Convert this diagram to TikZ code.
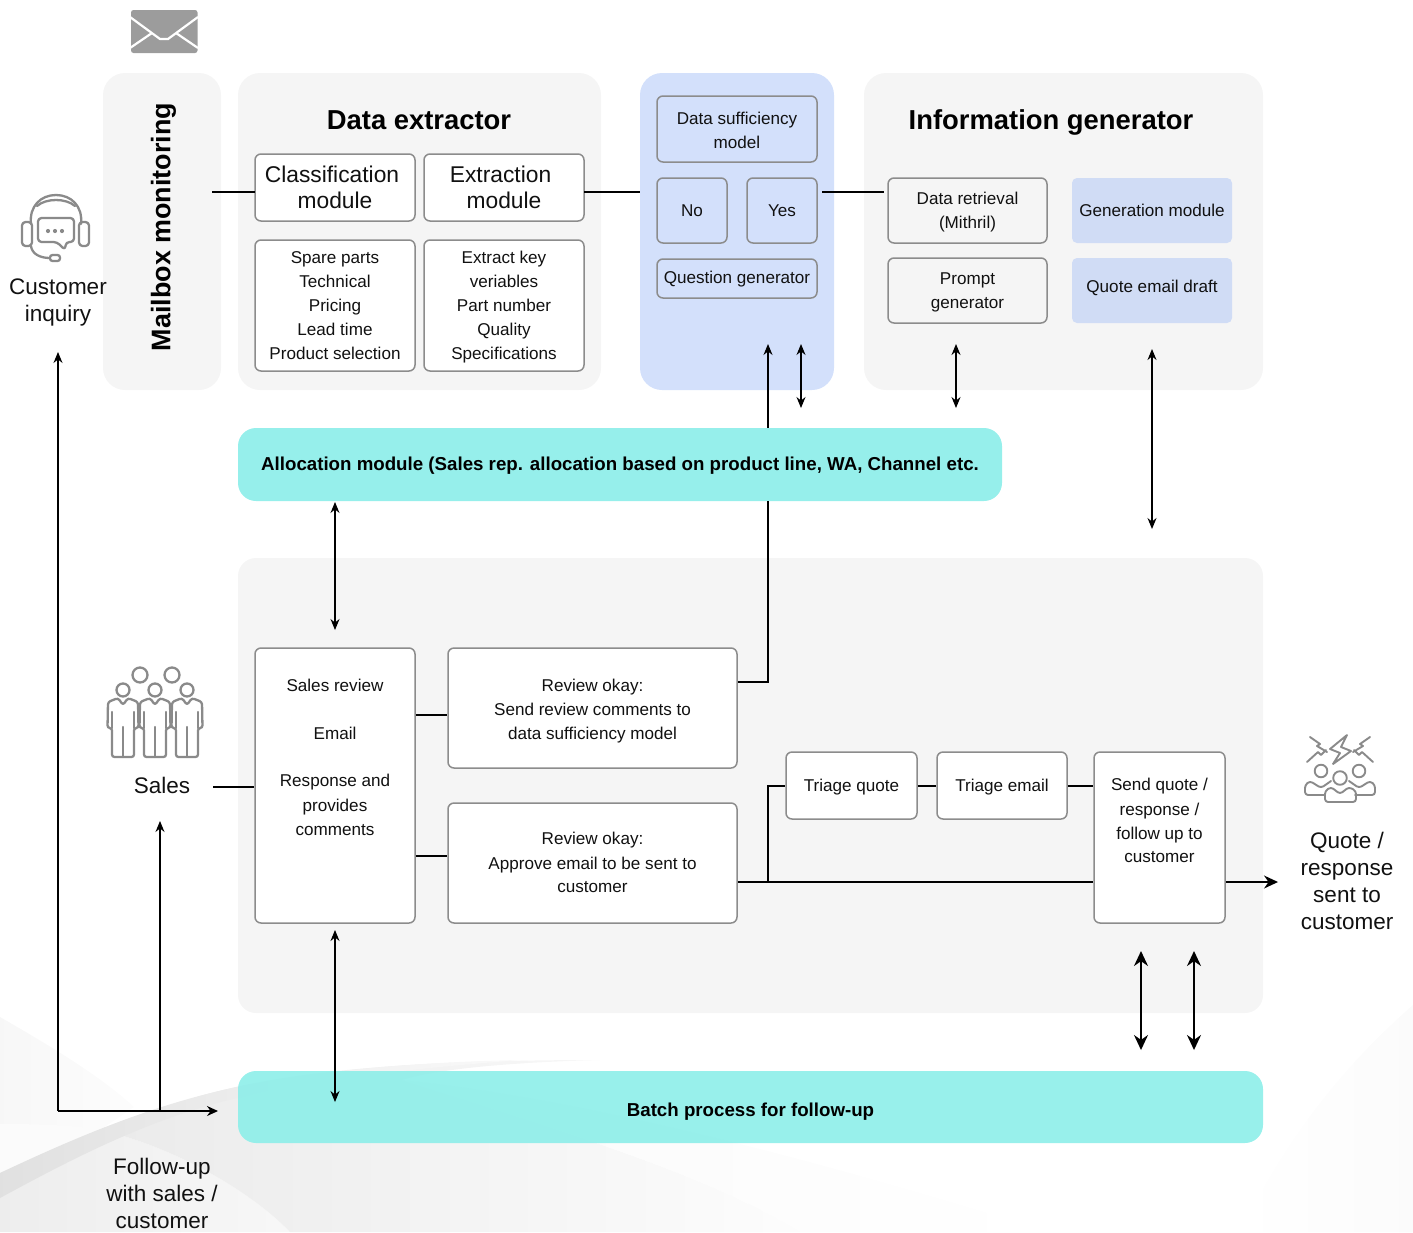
\documentclass[tikz,border=0pt]{standalone}
\usepackage{fontspec}
\setmainfont{Liberation Sans}
\usetikzlibrary{arrows.meta}
\definecolor{panelgrey}{HTML}{F5F5F5}
\definecolor{panelblue}{HTML}{D3E0FB}
\definecolor{genblue}{HTML}{D0DCF5}
\definecolor{teal}{HTML}{96EFEB}
\definecolor{tealb}{HTML}{8DEEE9}
\definecolor{edgegrey}{HTML}{8C8C8C}
\definecolor{icongrey}{HTML}{8A8A8A}
\definecolor{inkblack}{HTML}{111111}
\newcommand{\firststrut}{\rule{0pt}{.94em}}
\newcommand{\laststrut}{\rule[-.24em]{0pt}{.24em}}
\tikzset{
  panel/.style={rounded corners=22pt,draw=none,inner sep=0pt},
  cbox/.style={rounded corners=6pt,draw=edgegrey,line width=1.5pt,align=center,inner sep=0pt,text=inkblack,font=\fontsize{17.1}{24}\selectfont},
  bigbox/.style={cbox,font=\fontsize{22.8}{26}\selectfont},
  flat/.style={cbox,draw=none},
  outside/.style={align=center,text=inkblack,inner sep=0pt,font=\fontsize{22.5}{27}\selectfont},
  title/.style={align=center,inner sep=0pt,text=black,font=\fontsize{27.4}{32}\selectfont\bfseries},
  band/.style={rounded corners=18pt,inner sep=0pt,align=center,text=black,font=\fontsize{18.7}{22}\selectfont\bfseries},
  conn/.style={line width=1.4pt,draw=black},
  thin arrow/.style={conn,line width=1.1pt,-{Stealth[length=11pt,width=9pt]}},
  twoway/.style={conn,line width=1.1pt,{Stealth[length=11pt,width=9pt]}-{Stealth[length=11pt,width=9pt]}},
  twowayb/.style={conn,line width=1.8pt,{Stealth[length=15pt,width=14pt]}-{Stealth[length=15pt,width=14pt]}},
  icon/.style={draw=icongrey,line width=2.3pt,line join=round,line cap=round,fill=none},
}
% name, x1, y1, x2, y2, style, text
\newcommand{\boxat}[7]{%
  \pgfmathsetmacro{\bxc}{(#2+#4)/2}\pgfmathsetmacro{\byc}{(#3+#5)/2}%
  \pgfmathsetmacro{\bxw}{#4-#2}\pgfmathsetmacro{\byh}{#5-#3}%
  \node[#6,minimum width=\bxw pt,minimum height=\byh pt] (#1) at (\bxc,\byc) {\firststrut #7\laststrut};}
\newcommand{\manbody}[1]{%
  \draw[icon,rounded corners=2.5pt] (#1-5,698) -- (#1,705) -- (#1+5,698) -- (#1+15,702) -- (#1+15.5,728) -- (#1+11,728) -- (#1+11,757) -- (#1-11,757) -- (#1-11,728) -- (#1-15.5,728) -- (#1-15,702) -- cycle;
  \draw[icon] (#1,727) -- (#1,757) (#1-11,712) -- (#1-11,728) (#1+11,712) -- (#1+11,728);}
\begin{document}
\begin{tikzpicture}[x=1pt,y=-1pt]
\useasboundingbox (0,0) rectangle (1413,1232);
% background swooshes
\shade[left color=black!3,right color=black!1] (0,1017) .. controls (40,1040) and (100,1075) .. (134,1107) -- (100,1130) -- (0,1124) -- cycle;
\fill[black!1.5] (0,1124) .. controls (40,1124) and (75,1125) .. (100,1130) -- (0,1173) -- cycle;
\shade[left color=black!7,right color=black!3] (0,1232) -- (0,1173) -- (100,1130) .. controls (170,1145) and (250,1190) .. (290,1232) -- cycle;
\shade[left color=black!8,right color=black!1] (100,1130) -- (178,1103) .. controls (260,1075) and (380,1060) .. (600,1060) .. controls (520,1062) and (440,1068) .. (402,1080) .. controls (540,1125) and (700,1170) .. (800,1232) -- (290,1232) .. controls (250,1190) and (170,1145) .. (100,1130) -- cycle;
\shade[left color=black!12,right color=black!2] (0,1173) .. controls (70,1140) and (150,1105) .. (237,1087) .. controls (320,1070) and (420,1062) .. (520,1060) .. controls (420,1068) and (320,1078) .. (237,1098) .. controls (150,1118) and (70,1160) .. (0,1198) -- cycle;
\shade[left color=black!2,right color=white] (402,1080) .. controls (540,1125) and (700,1170) .. (800,1232) -- (1050,1232) .. controls (850,1170) and (600,1100) .. (402,1080) -- cycle;
\shade[left color=white,right color=black!1.5] (1240,1232) .. controls (1290,1130) and (1350,1060) .. (1413,1005) -- (1413,1232) -- cycle;
% panels
\boxat{pMail}{103}{73}{221}{390}{panel,fill=panelgrey}{}
\boxat{pExtract}{238}{73}{601}{390}{panel,fill=panelgrey}{}
\boxat{pSuff}{640}{73}{834}{390}{panel,fill=panelblue}{}
\boxat{pInfo}{864}{73}{1263}{390}{panel,fill=panelgrey}{}
\boxat{pLower}{238}{558}{1263}{1013}{panel,rounded corners=18pt,fill=panelgrey}{}
\boxat{alloc}{238}{428}{1002}{501}{band,fill=teal}{\raisebox{1pt}{Allocation module (Sales rep. allocation based on product line, WA, Channel etc.}}
\boxat{batch}{238}{1071}{1263}{1143}{band,fill=tealb,fill opacity=.9,text opacity=1}{\raisebox{-5pt}{Batch process for follow-up}}
% titles
\node[title,font=\fontsize{26.9}{30}\selectfont\bfseries,rotate=90] (mailT) at (161,227) {\firststrut Mailbox monitoring\laststrut};
\node[title] (extT) at (419,120) {\firststrut Data extractor\laststrut};
\node[title] (infoT) at (1051,120) {\firststrut Information generator\laststrut};
% connector free ends
\coordinate (mailOut) at (212,192);
\coordinate (classIn) at (255,192);
\coordinate (extOut) at (584,192);
\coordinate (suffIn) at (640,192);
\coordinate (suffOut) at (822,192);
\coordinate (retrIn) at (884,192);
\coordinate (a1) at (768,344);
\coordinate (a2t) at (801,344);
\coordinate (a2b) at (801,408);
\coordinate (a3t) at (956,344);
\coordinate (a3b) at (956,408);
\coordinate (a4t) at (1152,349);
\coordinate (a4b) at (1152,529);
\coordinate (a5t) at (335,502);
\coordinate (a5b) at (335,630);
\coordinate (a6t) at (335,930);
\coordinate (a6b) at (335,1102);
\coordinate (a7t) at (1141,951);
\coordinate (a7b) at (1141,1050);
\coordinate (a8t) at (1194,951);
\coordinate (a8b) at (1194,1050);
\coordinate (custIn) at (58,352);
\coordinate (salesIn) at (160,821);
\coordinate (fStart) at (58,1111);
\coordinate (fMid) at (160,1111);
\coordinate (fEnd) at (218,1111);
\coordinate (salesOut) at (213,787);
\coordinate (finalOut) at (1278,882);
% boxes
\boxat{cls}{255}{154}{415}{221}{bigbox,fill=white}{Classification\hspace{6pt}\mbox{}\\module}
\boxat{ext}{424}{154}{584}{221}{bigbox,fill=white}{Extraction\hspace{7pt}\mbox{}\\module}
\boxat{spare}{255}{240}{415}{371}{cbox,fill=white}{Spare parts\\Technical\\Pricing\\Lead time\\Product selection}
\boxat{keys}{424}{240}{584}{371}{cbox,fill=white}{Extract key\\veriables\\Part number\\Quality\\Specifications}
\boxat{suff}{657}{96}{817}{162}{cbox}{\rule{0pt}{20pt}Data sufficiency\\model}
\boxat{no}{657}{178}{727}{243}{cbox}{No}
\boxat{yes}{747}{178}{817}{243}{cbox}{Yes}
\boxat{qgen}{657}{259}{817}{298}{cbox}{\raisebox{1pt}{Question generator}}
\boxat{retr}{888}{178}{1047}{243}{cbox}{Data retrieval\\(Mithril)}
\boxat{prompt}{888}{258}{1047}{323}{cbox}{Prompt\\generator}
\boxat{gen}{1072}{178}{1232}{243}{flat,rounded corners=5pt,fill=genblue}{Generation module}
\boxat{draft}{1072}{258}{1232}{323}{flat,rounded corners=5pt,fill=genblue}{\raisebox{3.5pt}{Quote email draft}}
\boxat{review}{255}{648}{415}{923}{cbox,fill=white}{Sales review\\[24pt]Email\\[24pt]Response and\\provides\\comments\\[33pt]\mbox{}}
\boxat{okA}{448}{648}{737}{768}{cbox,fill=white}{\rule{0pt}{20pt}Review okay:\\Send review comments to\\data sufficiency model}
\boxat{okB}{448}{803}{737}{923}{cbox,fill=white}{Review okay:\\Approve email to be sent to\\customer}
\boxat{tq}{786}{752}{917}{819}{cbox,fill=white}{Triage quote}
\boxat{te}{937}{752}{1067}{819}{cbox,fill=white}{Triage email}
\boxat{send}{1094}{752}{1225}{923}{cbox,fill=white}{Send quote /\\response /\\follow up to\\customer\\[9pt]\mbox{}}
% outside labels
\node[outside] (custL) at (58,300.5) {\firststrut Customer\\inquiry\laststrut};
\node[outside] (salesL) at (162,786) {\firststrut Sales\laststrut};
\node[outside] (quoteL) at (1347,881) {\firststrut Quote /\\response\\sent to\\customer\laststrut};
\node[outside] (followL) at (162,1194) {\firststrut Follow-up\\with sales /\\customer\laststrut};
% connectors
\draw[conn] (mailOut) -- (classIn);
\draw[conn] (extOut) -- (suffIn);
\draw[conn] (suffOut) -- (retrIn);
\draw[conn] (okA.east |- 0,682) -| (alloc.south -| a1);
\draw[thin arrow] (alloc.north -| a1) -- (a1);
\draw[twoway] (a2t) -- (a2b);
\draw[twoway] (a3t) -- (a3b);
\draw[twoway] (a4t) -- (a4b);
\draw[twoway] (a5t) -- (a5b);
\draw[twoway] (a6t) -- (a6b);
\draw[twowayb] (a7t) -- (a7b);
\draw[twowayb] (a8t) -- (a8b);
\draw[conn] (salesOut) -- (review.west |- salesOut);
\draw[conn] (review.east |- 0,715) -- (okA.west |- 0,715);
\draw[conn] (review.east |- 0,856) -- (okB.west |- 0,856);
\draw[conn] (okB.east |- finalOut) -- (send.west |- finalOut);
\draw[conn] (768,882) |- (tq.west |- 0,786);
\draw[conn] (tq.east |- 0,786) -- (te.west |- 0,786);
\draw[conn] (te.east |- 0,786) -- (send.west |- 0,786);
\draw[conn,-{Stealth[length=14pt,width=13pt]}] (send.east |- finalOut) -- (finalOut);
\draw[conn,-{Stealth[length=11pt,width=10pt]}] (fStart) -- (fEnd);
\draw[thin arrow] (fStart) -- (custIn);
\draw[thin arrow] (fMid) -- (salesIn);
% envelope icon
\fill[icongrey!85!white,rounded corners=2.5pt] (131,10) rectangle (197.5,53);
\draw[white,line width=2.2pt] (130,17) -- (160,39) -- (168,39) -- (198,17);
\draw[white,line width=2.2pt] (130,48) -- (152,33) (198,48) -- (176,33);
% headset icon
\draw[icon] (31,224) .. controls (29,206) and (41,195) .. (56,195) .. controls (71,195) and (83,206) .. (81,224);
\draw[icon] (37,206) .. controls (46,198) and (66,198) .. (75,206);
\draw[icon,rounded corners=3.5pt] (22,222) rectangle (32,246);
\draw[icon,rounded corners=3.5pt] (79,222) rectangle (89,246);
\draw[icon,rounded corners=3.5pt] (38,218) -- (74,218) -- (74,242) -- (66,242) -- (65,250) -- (57,242) -- (38,242) -- cycle;
\fill[icongrey] (48,231) circle (2.1) (55,231) circle (2.1) (62,231) circle (2.1);
\draw[icon] (31,246) .. controls (32,254) and (40,258) .. (50,258);
\draw[icon,rounded corners=2.5pt] (50,255) rectangle (60,261);
% sales icon
\draw[icon] (140,675) circle (7.5) (172,675) circle (7.5) (123,690) circle (6.5) (155,690) circle (6.5) (187,690) circle (6.5);
\manbody{123}\manbody{155}\manbody{187}
% quote icon
\draw[icon,line width=1.9pt] (1347,735) -- (1330,749) -- (1340,753) -- (1333,764) -- (1351,751) -- (1341,747) -- cycle;
\draw[icon,line width=1.9pt] (1310,737) -- (1320,744) -- (1317,746) -- (1327,752);
\draw[icon,line width=1.9pt] (1370,737) -- (1360,744) -- (1363,746) -- (1353,752);
\draw[icon,line width=1.9pt] (1307,762) -- (1318,752) -- (1321,755) -- (1326,750);
\draw[icon,line width=1.9pt] (1373,762) -- (1362,752) -- (1359,755) -- (1354,750);
\draw[icon,line width=1.9pt] (1321,771) circle (6.3) (1359,771) circle (6.3) (1340,778) circle (6.8);
\draw[icon,line width=1.9pt,rounded corners=3pt] (1325,795) -- (1305,795) -- (1305,785) -- (1310,781) -- (1321,788) -- (1331,781);
\draw[icon,line width=1.9pt,rounded corners=3pt] (1355,795) -- (1375,795) -- (1375,785) -- (1370,781) -- (1359,788) -- (1349,781);
\draw[icon,line width=1.9pt,rounded corners=3pt] (1325,802) -- (1325,791) -- (1331,787) -- (1340,794) -- (1349,787) -- (1356,791) -- (1356,802) -- cycle;
\end{tikzpicture}
\end{document}
